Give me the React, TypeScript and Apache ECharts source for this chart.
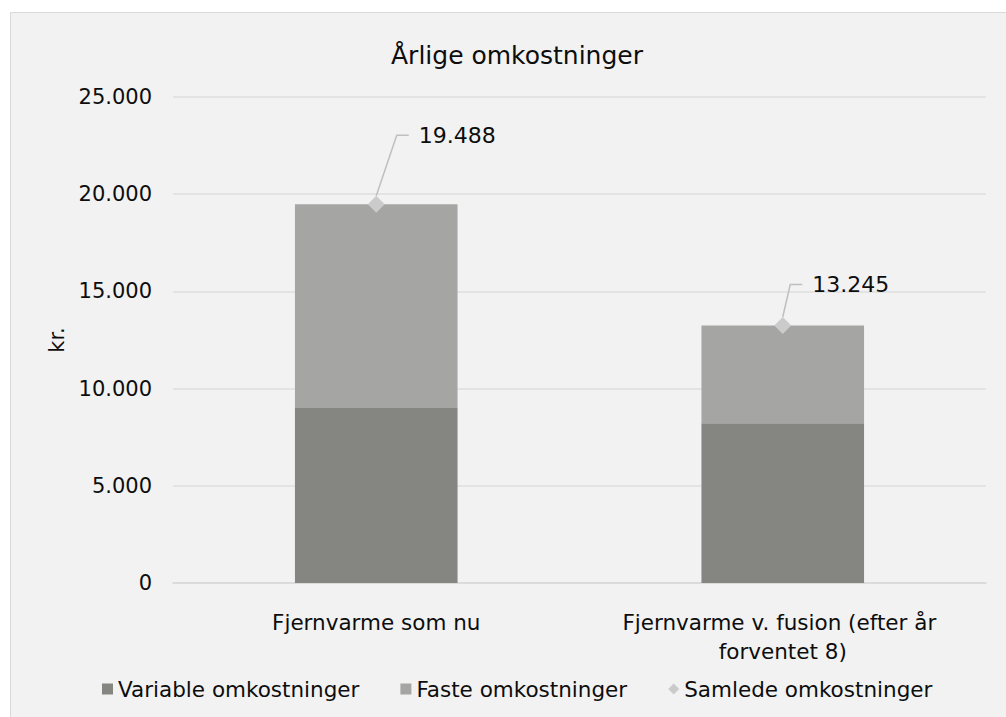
import React, { useEffect, useRef } from "react";
import * as echarts from "echarts";

const categories = ["Fjernvarme som nu", "Fjernvarme v. fusion (efter år forventet 8)"];
const variableCosts = [9000, 8215];
const fixedCosts = [10488, 5030];
const totalCosts = [19488, 13245];
const seriesNames = ["Variable omkostninger", "Faste omkostninger", "Samlede omkostninger"];
const yTicks = { min: 0, max: 25000, interval: 5000 };

const fmt = (v: number) => {
  const s = Math.round(v).toString();
  return s.replace(/\B(?=(\d{3})+(?!\d))/g, ".");
};

const FONT = "DejaVu Sans";
const TEXT = "#0d0d0d";

export default function App() {
  const ref = useRef<HTMLDivElement>(null);
  useEffect(() => {
    if (!ref.current) return;
    const chart = echarts.init(ref.current, undefined, { renderer: "svg" });
    const labelShift = [
      { dx: 19, dy: -69 },
      { dx: 6, dy: -41 },
    ];
    chart.setOption({
      animation: false,
      backgroundColor: "#ffffff",
      textStyle: { fontFamily: FONT },
      graphic: [
        {
          type: "rect",
          z: -10,
          silent: true,
          shape: { x: 10.5, y: 12.5, width: 1010, height: 720 },
          style: { fill: "#F2F2F2", stroke: "#D9D9D9", lineWidth: 1 },
        },
      ],
      title: {
        text: "Årlige omkostninger",
        left: 512,
        top: 38,
        textAlign: "center",
        textStyle: { fontFamily: FONT, fontSize: 25, fontWeight: "normal", color: TEXT },
      },
      legend: {
        left: 97,
        top: 673,
        itemWidth: 11,
        itemHeight: 11,
        itemGap: 41,
        textStyle: { fontFamily: FONT, fontSize: 21.5, color: TEXT },
        data: [
          { name: seriesNames[0], icon: "rect" },
          { name: seriesNames[1], icon: "rect" },
          { name: seriesNames[2], icon: "diamond" },
        ],
      },
      grid: { left: 173, right: 20, top: 97, bottom: 134 },
      xAxis: {
        type: "category",
        data: categories,
        axisLine: { show: true, lineStyle: { color: "#D9D9D9", width: 1.5 } },
        axisTick: { show: false },
        axisLabel: {
          fontFamily: FONT,
          fontSize: 21.5,
          color: TEXT,
          margin: 25,
          lineHeight: 29,
          width: 400,
          overflow: "break",
          interval: 0,
        },
      },
      yAxis: {
        type: "value",
        min: yTicks.min,
        max: yTicks.max,
        interval: yTicks.interval,
        name: "kr.",
        nameLocation: "middle",
        nameGap: 103,
        nameTextStyle: { fontFamily: FONT, fontSize: 21, color: TEXT },
        axisLine: { show: false },
        axisTick: { show: false },
        axisLabel: {
          fontFamily: FONT,
          fontSize: 21,
          color: TEXT,
          margin: 21,
          formatter: (v: number) => fmt(v),
        },
        splitLine: { lineStyle: { color: "#DEDEDE", width: 1.5 } },
      },
      series: [
        {
          name: seriesNames[0],
          type: "bar",
          stack: "total",
          barWidth: "40%",
          data: variableCosts,
          itemStyle: { color: "#858682" },
        },
        {
          name: seriesNames[1],
          type: "bar",
          stack: "total",
          barWidth: "40%",
          data: fixedCosts,
          itemStyle: { color: "#A5A6A3" },
        },
        {
          name: seriesNames[2],
          type: "line",
          data: totalCosts,
          symbol: "diamond",
          symbolSize: 17,
          lineStyle: { width: 0, opacity: 0 },
          itemStyle: { color: "#CBCBCB" },
          z: 5,
          label: {
            show: true,
            position: "right",
            distance: 5,
            padding: [0, 0, 0, 10],
            backgroundColor: "rgba(0,0,0,0)",
            fontFamily: FONT,
            fontSize: 22,
            color: TEXT,
            formatter: (p: any) => fmt(p.value),
          },
          labelLine: {
            show: true,
            length2: 12,
            lineStyle: { color: "#BFBFBF", width: 1.5 },
          },
          labelLayout: (p: any) => labelShift[p.dataIndex] || {},
        },
      ],
    });
    return () => chart.dispose();
  }, []);
  return (
    <div
      ref={ref}
      style={{ position: "fixed", left: 0, top: 0, width: 1006, height: 717 }}
    />
  );
}
